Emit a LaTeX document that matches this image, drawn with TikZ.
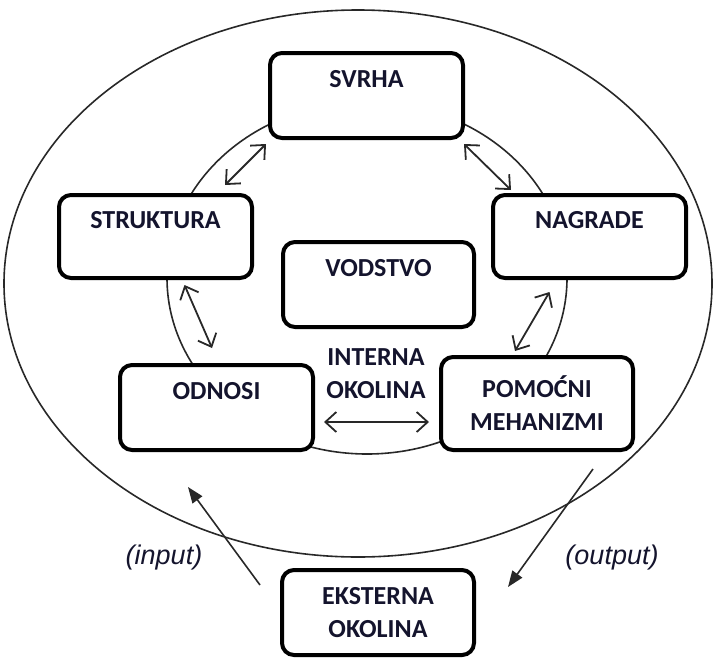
\documentclass[tikz,border=0pt]{standalone}
\usepackage{fontspec}
\setmainfont{Carlito}
\newfontfamily\arialfont{Liberation Sans}
\usetikzlibrary{arrows.meta, calc}
\definecolor{inkgray}{RGB}{40,40,40}
\definecolor{textnavy}{RGB}{20,20,45}

\begin{document}
\begin{tikzpicture}[
  x=0.5pt, y=-0.5pt,
  stage/.style={draw, fill=white, rounded corners=6pt, line width=2pt, align=center,
    inner sep=0pt, minimum width=96.5pt, minimum height=42.5pt,
    font=\bfseries\fontsize{13}{16.5}\selectfont, text=textnavy},
  ring/.style={draw=inkgray, line width=0.8pt},
  link/.style={<->, draw=inkgray, line width=0.9pt, >={Straight Barb[length=5.5pt,width=10pt]}},
  flow/.style={-{Triangle[length=8pt,width=6pt]}, draw=inkgray, line width=0.8pt},
  tag/.style={font=\arialfont\itshape\fontsize{13.5}{15}\selectfont, text=textnavy}
]
  \useasboundingbox (0,0) rectangle (716,664);

  % environments
  \draw[ring] (358,283.5) ellipse [x radius=354, y radius=273.5];
  \draw[ring] (367,278) ellipse [x radius=200, y radius=176];

  % elements
  \node[stage] (svrha) at (366.5,95.5) {SVRHA\\~};
  \node[stage, minimum height=41.5pt] (struktura) at (155.5,236.5) {STRUKTURA\\~};
  \node[stage, minimum height=41.5pt] (nagrade) at (589.5,236.5) {NAGRADE\\~};
  \node[stage, minimum width=95.5pt] (vodstvo) at (378.5,284.5) {VODSTVO\\~};
  \node[stage] (odnosi) at (216.5,407.5) {ODNOSI\\~};
  \node[stage, minimum width=96pt, minimum height=46.5pt] (pomocni) at (537,403.5) {POMOĆNI\\MEHANIZMI};
  \node[stage, minimum width=96pt] (eksterna) at (378,612.5) {EKSTERNA\\OKOLINA};
  \node[align=center, inner sep=0pt, font=\bfseries\fontsize{13}{16.5}\selectfont, text=textnavy]
    (interna) at (376,373.5) {INTERNA\\OKOLINA};

  % links
  \draw[link] ($(svrha.south west)+(-2,4)$) -- ($(struktura.north east)+(-29,-8)$);
  \draw[link] ($(svrha.south east)+(-1,4)$) -- ($(nagrade.north west)+(20,-3)$);
  \draw[link] ($(struktura.south)+(29,5)$) -- ($(odnosi.north)+(-4.5,-15)$);
  \draw[link] ($(nagrade.south)+(-40,12)$) -- ($(pomocni.north)+(-22,-4)$);
  \draw[link] ($(odnosi.east)+(9,14.5)$) -- ($(pomocni.west)+(-10,18.5)$);

  % input / output
  \coordinate (inhead) at (188,487);
  \coordinate (outtail) at ($(pomocni.south east)+(-42,17)$);
  \coordinate (outhead) at (508,587);
  \draw[flow] ($(eksterna.north west)+(-20,17)$) -- (inhead);
  \draw[flow] (outtail) -- (outhead);
  \node[tag] (input) at (164,558) {(input)};
  \node[tag] (output) at (612,558) {(output)};
\end{tikzpicture}
\end{document}
